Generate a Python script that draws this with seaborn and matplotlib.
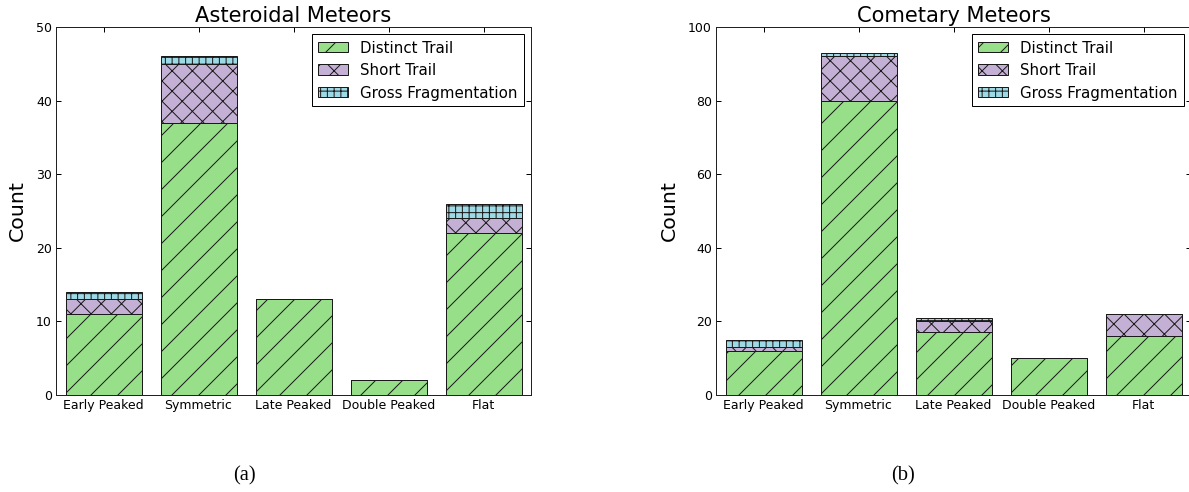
import numpy as np
import matplotlib
matplotlib.use("Agg")
import matplotlib.pyplot as plt
import seaborn as sns

# Light-curve shape classes on the x axis
categories = ["Early Peaked", "Symmetric", "Late Peaked", "Double Peaked", "Flat"]
series_names = ["Distinct Trail", "Short Trail", "Gross Fragmentation"]

# Asteroidal meteors: counts per morphology class
asteroidal_distinct = [11, 37, 13, 2, 22]
asteroidal_short = [2, 8, 0, 0, 2]
asteroidal_gross = [1, 1, 0, 0, 2]

# Cometary meteors: counts per morphology class
cometary_distinct = [12, 80, 17, 10, 16]
cometary_short = [1, 12, 3, 0, 6]
cometary_gross = [2, 1, 1, 0, 0]

asteroidal_ticks = [0, 10, 20, 30, 40, 50]
cometary_ticks = [0, 20, 40, 60, 80, 100]

# Render resolution; hatch tiles scale with it, so it also sets hatch spacing
DPI = 243
W, H = 1189, 492


def pt(px):
    """Convert a size in pixels to points at the output resolution."""
    return px * 72.0 / DPI


sns.set_theme(style="ticks", rc={
    "text.color": "black",
    "axes.labelcolor": "black",
    "xtick.color": "black",
    "ytick.color": "black",
    "axes.edgecolor": "#222222",
})
plt.rcParams["font.family"] = ["DejaVu Sans"]
plt.rcParams["hatch.linewidth"] = pt(1.0)

fig = plt.figure(figsize=((W + 0.01) / DPI, (H + 0.01) / DPI), dpi=DPI)
fig.patch.set_facecolor("white")

colors = ["#98df8a", "#c5b0d5", "#9edae5"]
hatches = ["///", "xxxx", "++++++"]
edge = "#1a1a1a"


def panel(left_px, distinct, short, gross, ticks, title, tag, tag_x):
    ax = fig.add_axes([left_px / W, (H - 395) / H, 475 / W, 368 / H])
    bottom = np.zeros(len(categories))
    for name, vals, col, hat in zip(series_names, [distinct, short, gross], colors, hatches):
        sns.barplot(x=categories, y=vals, bottom=bottom, color=col, saturation=1,
                    width=0.8, hatch=hat, edgecolor=edge, linewidth=pt(1.0),
                    label=name, errorbar=None, ax=ax)
        bottom = bottom + np.asarray(vals, dtype=float)

    ax.set_xlim(-0.5, len(categories) - 0.5)
    ax.set_ylim(ticks[0], ticks[-1])
    ax.set_yticks(ticks)
    ax.set_xlabel("")
    ax.set_ylabel("Count", fontsize=pt(20.5), labelpad=pt(9))
    ax.set_title(title, fontsize=pt(21), pad=pt(5))
    ax.tick_params(direction="in", top=True, right=True, length=pt(5), width=pt(1),
                   labelsize=pt(12.6), pad=pt(4))
    for s in ax.spines.values():
        s.set_linewidth(pt(1.0))
        s.set_visible(True)

    leg = ax.legend(loc="upper right", fontsize=pt(15), frameon=True, fancybox=False,
                    edgecolor="black", framealpha=1, borderaxespad=0.5)
    leg.get_frame().set_linewidth(pt(1.0))

    fig.text(tag_x / W, 1 - 476 / H, tag, family="Liberation Serif",
             fontsize=pt(20.5), ha="center", va="center")
    return ax


panel(56, asteroidal_distinct, asteroidal_short, asteroidal_gross, asteroidal_ticks,
      "Asteroidal Meteors", "(a)", 244)
panel(716, cometary_distinct, cometary_short, cometary_gross, cometary_ticks,
      "Cometary Meteors", "(b)", 903)

fig.savefig("out.png", dpi=DPI, facecolor="white")
